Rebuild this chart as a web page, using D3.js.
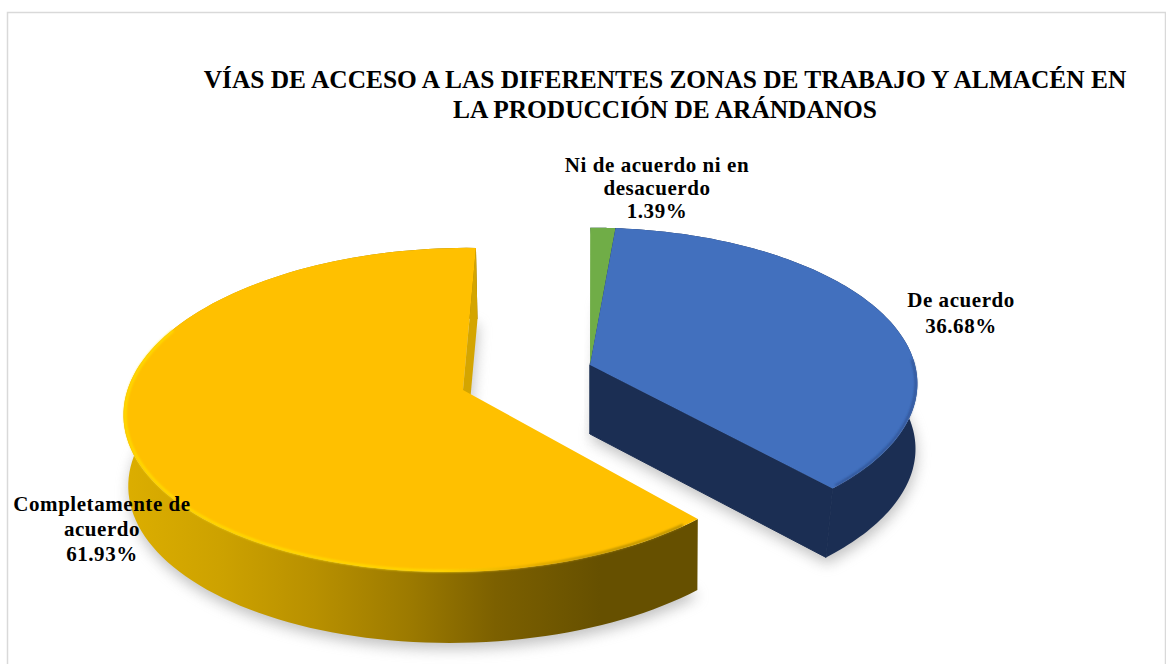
<!DOCTYPE html>
<html><head><meta charset="utf-8">
<script src="https://cdn.jsdelivr.net/npm/d3@7/dist/d3.min.js"></script>
<style>html,body{margin:0;padding:0;background:#fff}svg{display:block}text{font-family:"Liberation Serif",serif;font-weight:bold;fill:#000}</style>
</head><body><svg id="c" width="1166" height="664"></svg>
<script>
const categories = ["Ni de acuerdo ni en desacuerdo", "De acuerdo", "Completamente de acuerdo"];
const values = [1.39, 36.68, 61.93];
const colors = ["#70ad47", "#4270be", "#ffc000"];
const titleLines = ["VÍAS DE ACCESO A LAS DIFERENTES ZONAS DE TRABAJO Y ALMACÉN EN", "LA PRODUCCIÓN DE ARÁNDANOS"];
const labelLines = [["Ni de acuerdo ni en", "desacuerdo"], ["De acuerdo"], ["Completamente de", "acuerdo"]];

// homographies of the unit disc for the two exploded groups
const H = {
  right: {a:325,b:-71,c:590,d:0,e:110,f:365,g:0,h:-.12, pivot:590, sx:.997, kv:8, dy:69},
  left:  {a:336,b:-71.5,c:463,d:6,e:111.6,f:390,g:.0097,h:-.123, pivot:650, sx:.991, kv:0, dy:71}
};
function proj(t, r, ang, bottom){
  const u=r*Math.sin(ang), v=-r*Math.cos(ang), w=t.g*u+t.h*v+1;
  let x=(t.a*u+t.b*v+t.c)/w, y=(t.d*u+t.e*v+t.f)/w;
  if(bottom){ x=t.pivot+(x-t.pivot)*t.sx-t.kv*v; y+=t.dy; }
  return [x,y];
}
const svg=d3.select("#c");
const pie=d3.pie().sort(null).startAngle(0).endAngle(2*Math.PI);
const arcs=pie(values);
const line=d3.line();
const samples=(a0,a1)=>d3.range(0,121).map(i=>a0+(a1-a0)*i/120);
const deg=Math.PI/180;

const defs=svg.append("defs");
defs.append("filter").attr("id","sh").attr("x","-20%").attr("y","-20%").attr("width","140%").attr("height","140%")
  .append("feGaussianBlur").attr("stdDeviation",7);
defs.append("filter").attr("id","soft").attr("x","-5%").attr("y","-5%").attr("width","110%").attr("height","110%")
  .append("feGaussianBlur").attr("stdDeviation",1);
const gr=defs.append("linearGradient").attr("id","wallY").attr("gradientUnits","userSpaceOnUse").attr("x1",124).attr("x2",600).attr("y1",0).attr("y2",0);
[[0,"#dcae00"],[.2,"#cda200"],[.4,"#b89000"],[.6,"#9c7a00"],[.78,"#7c6000"],[1,"#665000"]].forEach(s=>gr.append("stop").attr("offset",s[0]).attr("stop-color",s[1]));
const gr2=defs.append("linearGradient").attr("id","rimY").attr("gradientUnits","userSpaceOnUse").attr("x1",124).attr("x2",700).attr("y1",0).attr("y2",0);
[[0,"#ffdf00"],[.55,"#ffdc00"],[.68,"#e8b000"],[.8,"#b89000"],[1,"#a88400"]].forEach(s=>gr2.append("stop").attr("offset",s[0]).attr("stop-color",s[1]));

// frame
svg.append("path").attr("d","M7.5,664V12.5H1165.5V664").attr("fill","none").attr("stroke","#d9d9d9").attr("stroke-width",1.5);

const groupOf=i=>i===2?H.left:H.right;
const wedge=(t,a,bottom)=>line([proj(t,0,0,bottom),...samples(a.startAngle,a.endAngle).map(x=>proj(t,1,x,bottom))])+"Z";

// shadows
arcs.forEach((a,i)=>{
  const t=groupOf(i);
  svg.append("path").attr("d",wedge(t,a,true)).attr("transform","translate(1,6)")
    .attr("fill","#8e8e8e").attr("opacity",.55).attr("filter","url(#sh)");
});
// walls
arcs.forEach((a,i)=>{
  const t=groupOf(i);
  const fill=i===2?"url(#wallY)":"#1b2e53";
  const A=samples(a.startAngle,a.endAngle);
  svg.append("path").attr("d",line([...A.map(x=>proj(t,1,x,false)),...A.slice().reverse().map(x=>proj(t,1,x,true))])+"Z").attr("fill",fill);
  // radial walls
  if(i===2){
    svg.append("path").attr("d",line([proj(t,1,a.endAngle,false),proj(t,1,a.endAngle,true),proj(t,0,0,true),proj(t,0,0,false)])+"Z").attr("fill","#d4a500");
  } else {
    svg.append("path").attr("d",line([proj(t,0,0,false),proj(t,1,a.endAngle,false),proj(t,1,a.endAngle,true),proj(t,0,0,true)])+"Z").attr("fill",fill).attr("stroke",fill).attr("stroke-width",1);
  }
});
// top faces
arcs.forEach((a,i)=>{
  svg.append("path").attr("d",wedge(groupOf(i),a,false)).attr("fill",colors[i]);
});
// bevel rims
svg.append("path").attr("d",line(samples(arcs[2].startAngle+3*deg,292*deg).map(x=>proj(H.left,.995,x,false))))
  .attr("fill","none").attr("stroke","url(#rimY)").attr("stroke-width",2.2).attr("filter","url(#soft)");
svg.append("path").attr("d",line(samples(88*deg,arcs[1].endAngle-1*deg).map(x=>proj(H.right,.995,x,false))))
  .attr("fill","none").attr("stroke","#2c4c8a").attr("stroke-width",1.6).attr("filter","url(#soft)");

// text
const fmt=d3.format(".2f");
svg.append("g").selectAll("text").data(titleLines).join("text")
  .attr("x",665).attr("y",(d,i)=>88+i*30).attr("text-anchor","middle").attr("font-size",25.4).text(d=>d);
const labelPos=[[657,172,23],[961,307,25.5],[102,511,25]];
categories.forEach((c,i)=>{
  const rows=[...labelLines[i],fmt(values[i])+"%"];
  svg.append("g").selectAll("text").data(rows).join("text")
    .attr("x",labelPos[i][0]).attr("y",(d,k)=>labelPos[i][1]+k*labelPos[i][2])
    .attr("text-anchor","middle").attr("font-size",21).attr("letter-spacing",.55).text(d=>d);
});
</script></body></html>
